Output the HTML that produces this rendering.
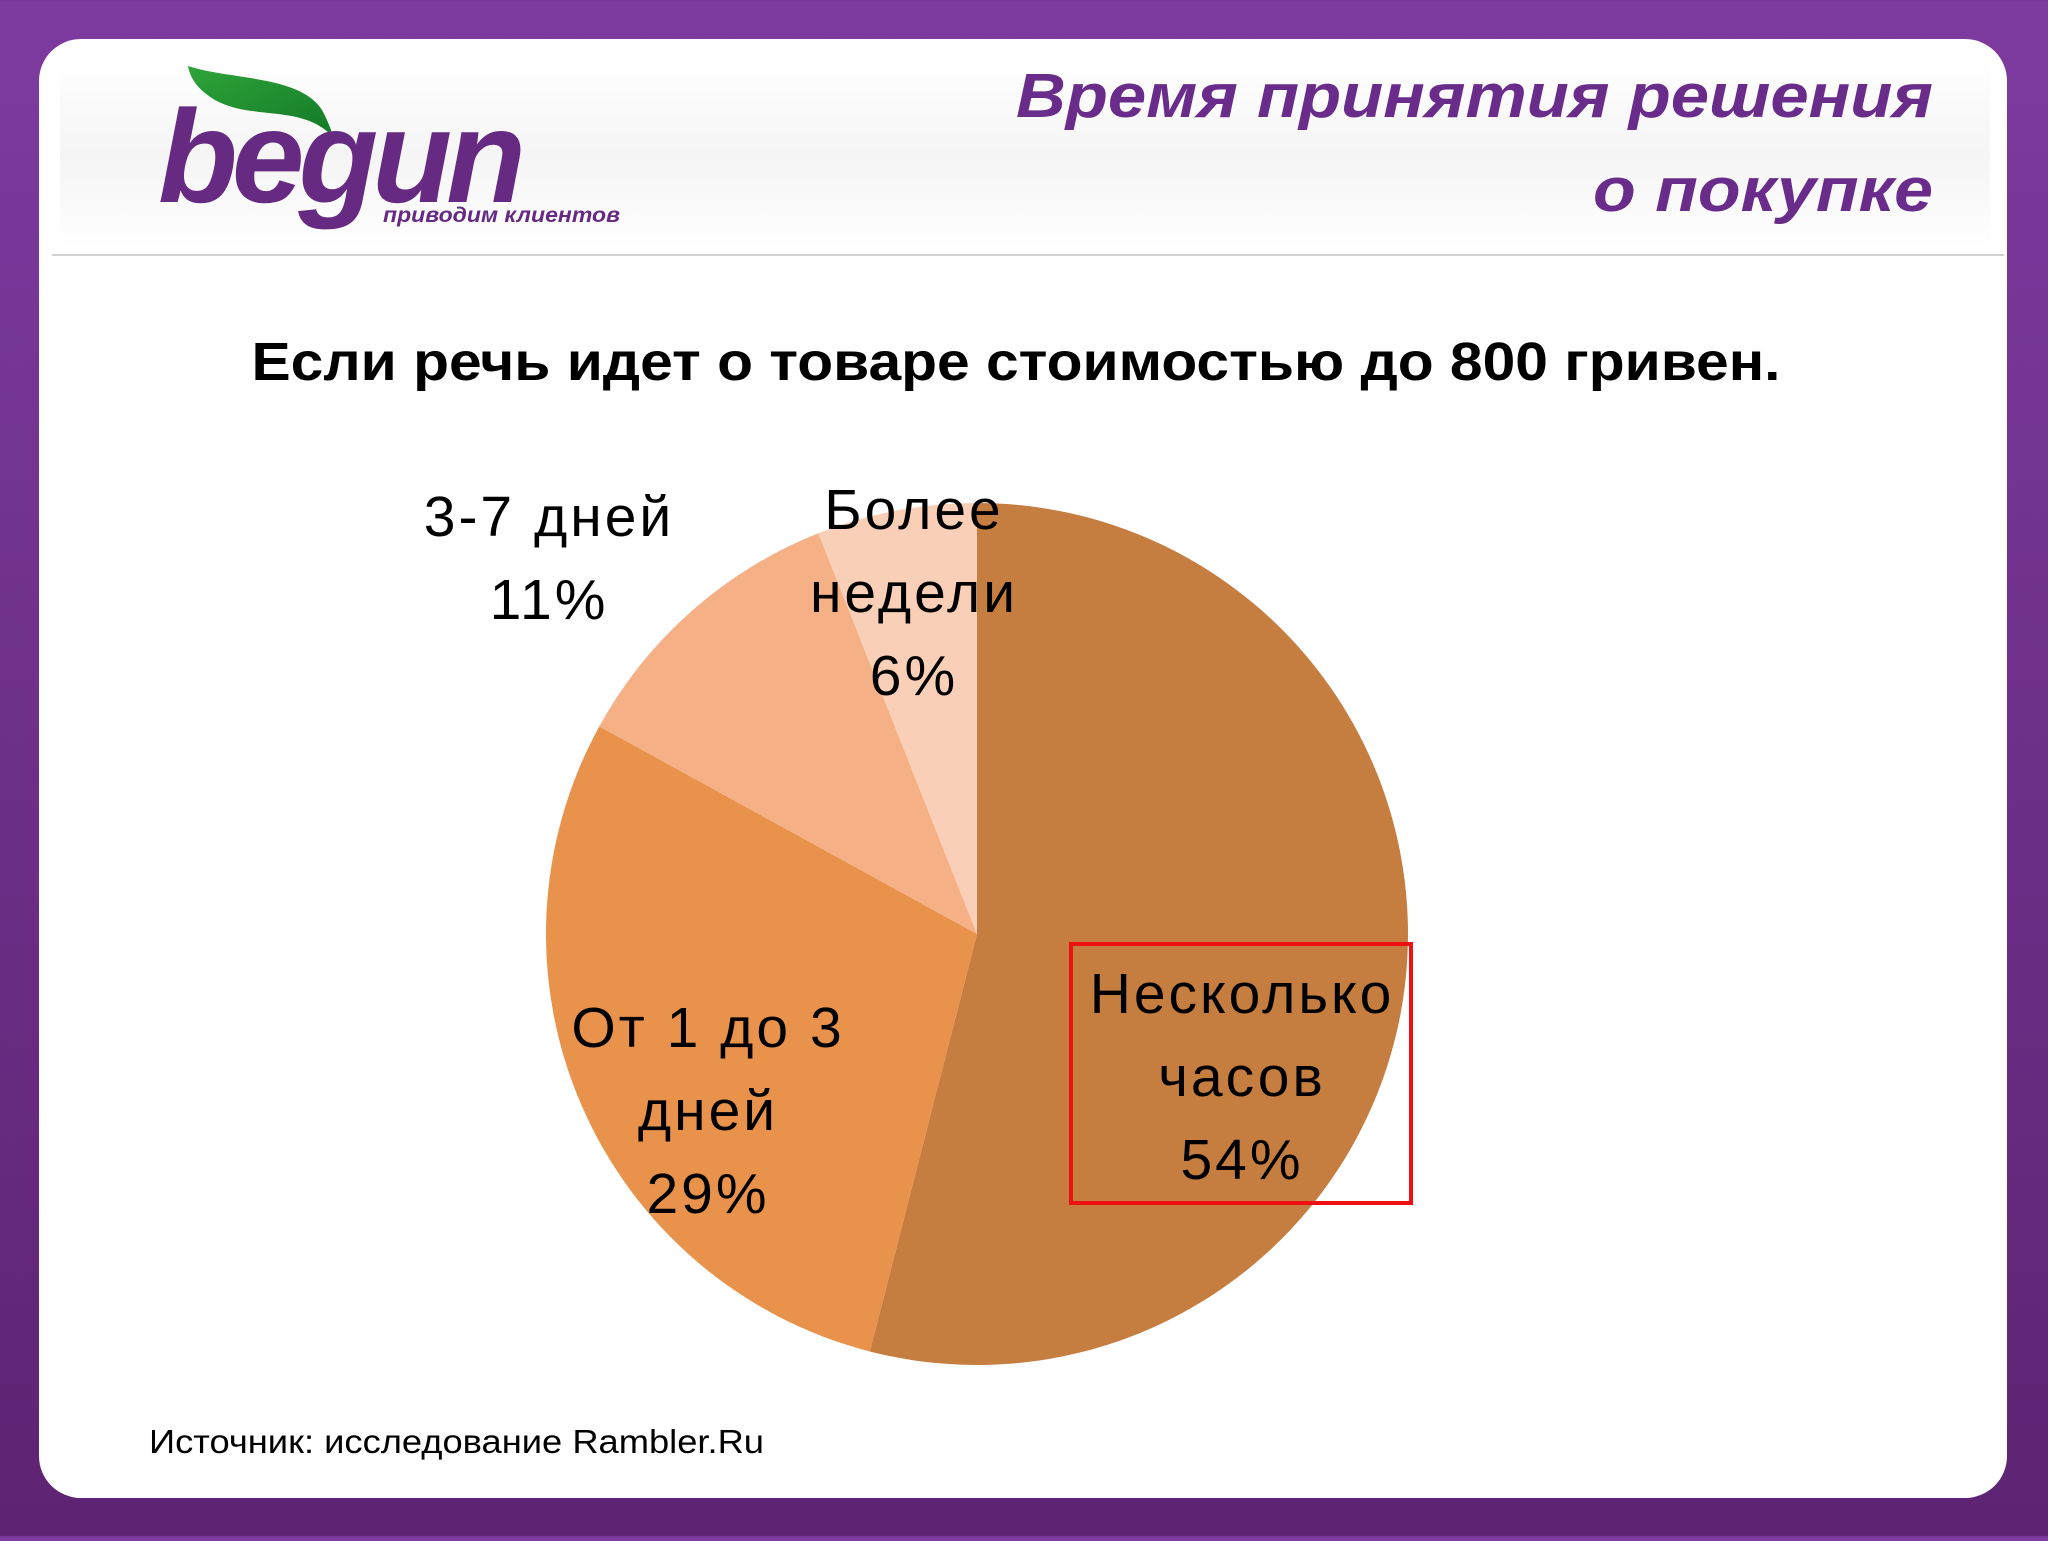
<!DOCTYPE html>
<html><head><meta charset="utf-8"><style>
html,body{margin:0;padding:0;}
body{width:2048px;height:1536px;overflow:hidden;background:linear-gradient(#7d3b9f,#5e2372);font-family:"Liberation Sans",sans-serif;}
</style></head><body>
<svg width="2048" height="1536" viewBox="0 0 2048 1536" xmlns="http://www.w3.org/2000/svg">
<defs>
<linearGradient id="hdr" x1="0" y1="0" x2="0" y2="1">
<stop offset="0" stop-color="#ffffff"/><stop offset="0.5" stop-color="#eeeeef"/><stop offset="1" stop-color="#ffffff"/>
</linearGradient>
<linearGradient id="leaf" x1="0" y1="0" x2="1" y2="1">
<stop offset="0" stop-color="#2fa43a"/><stop offset="1" stop-color="#137a27"/>
</linearGradient>
</defs>
<rect x="39" y="39" width="1968" height="1459" rx="42" fill="#ffffff"/>
<rect x="60" y="60" width="1930" height="190" fill="url(#hdr)" opacity="0.6"/>
<line x1="52" y1="255" x2="2004" y2="255" stroke="#d0d0d0" stroke-width="2"/>
<g>
<path d="M188 66 C230 80 300 75 322 110 C330 125 335 140 330 134 C300 105 250 120 215 100 C198 90 190 78 188 66 Z" fill="url(#leaf)"/>
<text x="158" y="202" font-size="132" font-weight="bold" font-style="italic" fill="#662a82" textLength="362" lengthAdjust="spacingAndGlyphs" letter-spacing="-6">begun</text>
<text x="383" y="222" font-size="21" font-weight="bold" font-style="italic" fill="#662a82" textLength="237" lengthAdjust="spacingAndGlyphs">приводим  клиентов</text>
</g>
<text x="1933" y="117" text-anchor="end" font-size="62" font-weight="bold" font-style="italic" fill="#6a2c8a" textLength="917" lengthAdjust="spacingAndGlyphs">Время принятия решения</text>
<text x="1933" y="211" text-anchor="end" font-size="62" font-weight="bold" font-style="italic" fill="#6a2c8a" textLength="340" lengthAdjust="spacingAndGlyphs">о покупке</text>
<text x="1016" y="380" text-anchor="middle" font-size="54" font-weight="bold" fill="#000" textLength="1529" lengthAdjust="spacingAndGlyphs">Если речь идет о товаре стоимостью до 800 гривен.</text>
<g id="pie"></g>
<text x="149" y="1453" font-size="33" fill="#000" textLength="615" lengthAdjust="spacingAndGlyphs">Источник: исследование Rambler.Ru</text>
</svg>
<script>
const categories = ["Несколько часов", "От 1 до 3 дней", "3-7 дней", "Более недели"];
const values = [54, 29, 11, 6];
const colors = ["#c67d40", "#e8924b", "#f5b085", "#facfb8"];
const labelLines = [["Несколько","часов","54%"],["От 1 до 3","дней","29%"],["3-7 дней","11%"],["Более","недели","6%"]];
const cx = 977, cy = 934, r = 431;
const NS = "http://www.w3.org/2000/svg";
const g = document.getElementById("pie");
const total = values.reduce((a,b)=>a+b,0);
function pt(frac){const a=frac*2*Math.PI;return [cx+r*Math.sin(a), cy-r*Math.cos(a)];}
let acc = 0;
const labelPos = [[1242,993],[708,1027],[549,516],[914,509]];
values.forEach((v,i)=>{
  const s=acc/total, e=(acc+v)/total; acc+=v;
  const [x1,y1]=pt(s),[x2,y2]=pt(e);
  const p=document.createElementNS(NS,"path");
  p.setAttribute("d",`M${cx},${cy} L${x1},${y1} A${r},${r} 0 ${e-s>0.5?1:0} 1 ${x2},${y2} Z`);
  p.setAttribute("fill",colors[i]);
  
  
  g.appendChild(p);
});
values.forEach((v,i)=>{
  const t=document.createElementNS(NS,"text");
  t.setAttribute("text-anchor","middle");
  t.setAttribute("font-size","57");
  t.setAttribute("letter-spacing","3");
  t.setAttribute("fill","#000");
  
  
  labelLines[i].forEach((ln,j)=>{
    const ts=document.createElementNS(NS,"tspan");
    ts.setAttribute("x",labelPos[i][0]);
    ts.setAttribute("y",labelPos[i][1]+20+j*83);
    ts.textContent=ln;
    t.appendChild(ts);
  });
  g.appendChild(t);
});
const box=document.createElementNS(NS,"rect");
box.setAttribute("x",1071);box.setAttribute("y",944);box.setAttribute("width",340);box.setAttribute("height",259);
box.setAttribute("fill","none");box.setAttribute("stroke","#ee1111");box.setAttribute("stroke-width","4");


g.appendChild(box);
</script>
</body></html>
